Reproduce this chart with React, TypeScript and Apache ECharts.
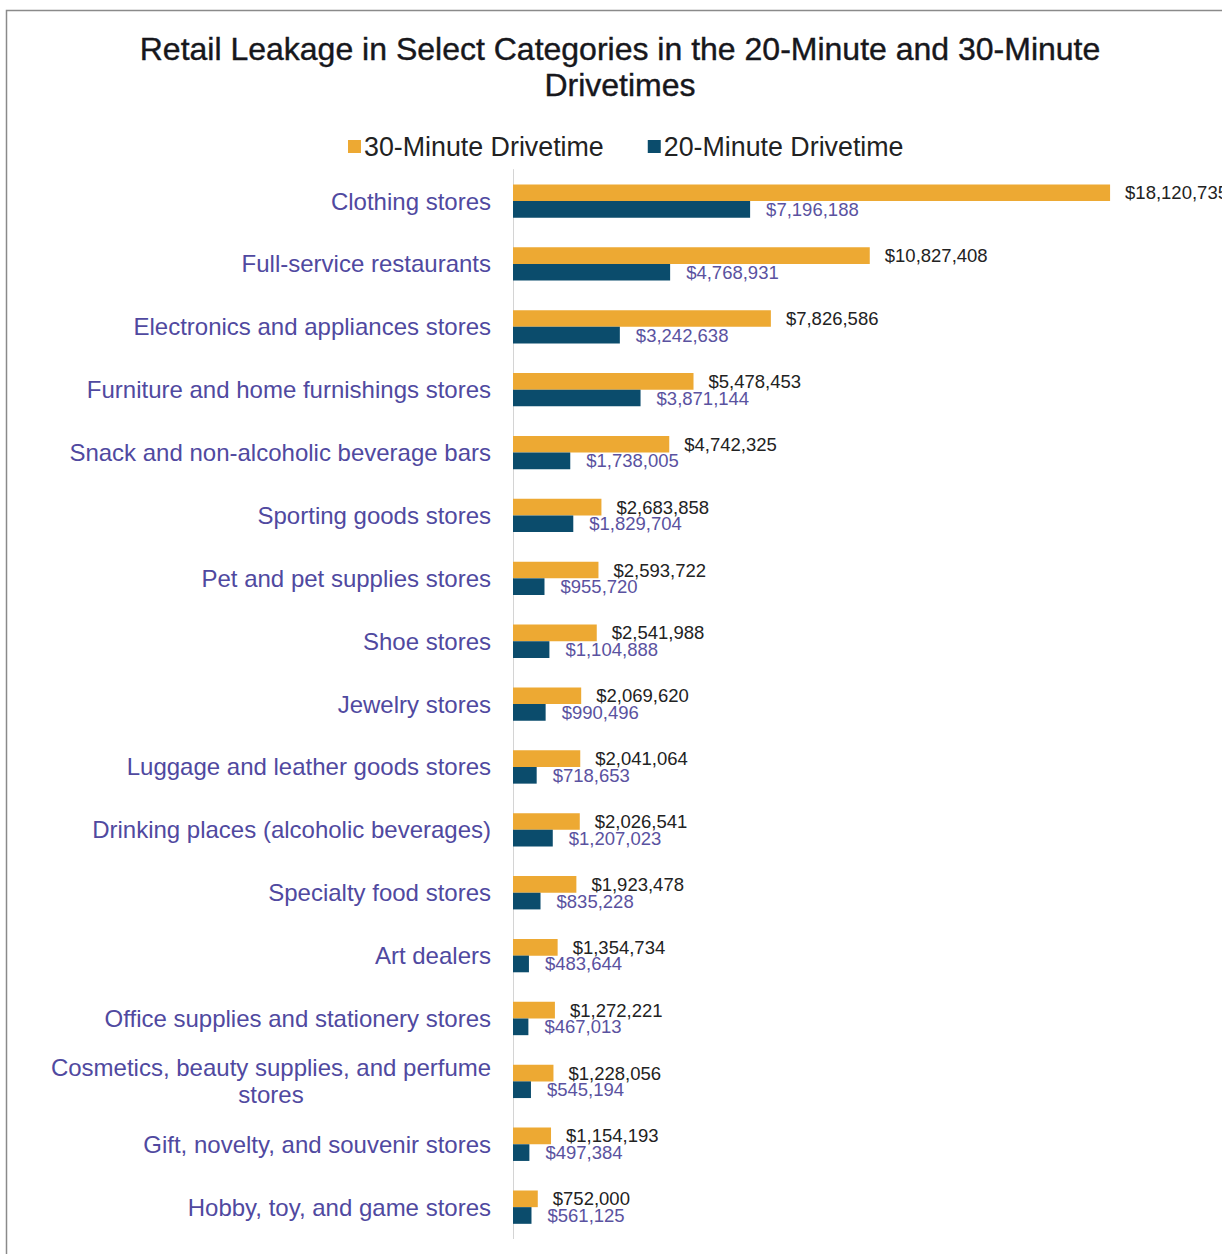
import React, { useEffect, useRef } from "react";
import * as echarts from "echarts";

const categories = [
  "Clothing stores",
  "Full-service restaurants",
  "Electronics and appliances stores",
  "Furniture and home furnishings stores",
  "Snack and non-alcoholic beverage bars",
  "Sporting goods stores",
  "Pet and pet supplies stores",
  "Shoe stores",
  "Jewelry stores",
  "Luggage and leather goods stores",
  "Drinking places (alcoholic beverages)",
  "Specialty food stores",
  "Art dealers",
  "Office supplies and stationery stores",
  "Cosmetics, beauty supplies, and perfume stores",
  "Gift, novelty, and souvenir stores",
  "Hobby, toy, and game stores",
];

const drive30 = [
  18120735, 10827408, 7826586, 5478453, 4742325, 2683858, 2593722, 2541988,
  2069620, 2041064, 2026541, 1923478, 1354734, 1272221, 1228056, 1154193, 752000,
];

const drive20 = [
  7196188, 4768931, 3242638, 3871144, 1738005, 1829704, 955720, 1104888,
  990496, 718653, 1207023, 835228, 483644, 467013, 545194, 497384, 561125,
];

const seriesNames = ["30-Minute Drivetime", "20-Minute Drivetime"];
const titleLines = [
  "Retail Leakage in Select Categories in the 20-Minute and 30-Minute",
  "Drivetimes",
];

const ORANGE = "#EDA933";
const NAVY = "#0B4C6C";
const PURPLE = "#5049A0";

const fmt = (v: number) => "$" + v.toLocaleString("en-US");

export default function App() {
  const ref = useRef<HTMLDivElement>(null);
  useEffect(() => {
    if (!ref.current) return;
    const chart = echarts.init(ref.current, undefined, { renderer: "svg" });
    chart.setOption({
      animation: false,
      backgroundColor: "#ffffff",
      textStyle: { fontFamily: "Liberation Sans, Arial, sans-serif" },
      graphic: [
        {
          type: "rect",
          shape: { x: 6.5, y: 10.5, width: 1400, height: 1400 },
          style: { fill: "none", stroke: "#8a8a8a", lineWidth: 1.5 },
          silent: true,
        },
        {
          type: "text",
          x: 620,
          y: 31,
          style: {
            text: titleLines.join("\n"),
            align: "center",
            verticalAlign: "top",
            fontSize: 32,
            lineHeight: 36,
            fill: "#17171c",
            stroke: "#17171c",
            lineWidth: 0.4,
            fontFamily: "Liberation Sans, Arial, sans-serif",
          },
        },
      ],
      legend: {
        left: 343,
        top: 128,
        itemWidth: 13,
        itemHeight: 13,
        itemGap: 44,
        icon: "rect",
        textStyle: { fontSize: 26.8, color: "#222222", padding: [0, 0, 0, -2] },
        data: seriesNames,
      },
      grid: { left: 513, right: 50, top: 169.6, bottom: 15.4, containLabel: false },
      xAxis: {
        type: "value",
        min: 0,
        max: 20000000,
        axisLabel: { show: false },
        axisLine: { show: false },
        axisTick: { show: false },
        splitLine: { show: false },
      },
      yAxis: {
        type: "category",
        inverse: true,
        data: categories,
        axisLine: { show: true, lineStyle: { color: "#d4d4d4", width: 1 } },
        axisTick: { show: false },
        axisLabel: {
          margin: 22,
          fontSize: 24,
          color: PURPLE,
          formatter: (v: string) => {
            if (v.length > 40) {
              const i = v.lastIndexOf(" ");
              return "{c|" + v.slice(0, i) + "}\n{c|" + v.slice(i + 1) + "}";
            }
            return v;
          },
          rich: {
            c: {
              width: 440,
              align: "center",
              fontSize: 24,
              lineHeight: 27,
              color: PURPLE,
            },
          },
        },
      },
      series: [
        {
          name: seriesNames[0],
          type: "bar",
          data: drive30,
          barGap: "0%",
          barCategoryGap: "47%",
          itemStyle: { color: ORANGE },
          label: {
            show: true,
            position: "right",
            distance: 15,
            fontSize: 18.5,
            color: "#222222",
            formatter: (p: any) => fmt(p.value),
          },
        },
        {
          name: seriesNames[1],
          type: "bar",
          data: drive20,
          barGap: "0%",
          barCategoryGap: "47%",
          itemStyle: { color: NAVY },
          label: {
            show: true,
            position: "right",
            distance: 16,
            fontSize: 18.5,
            color: "#5a52a0",
            formatter: (p: any) => fmt(p.value),
          },
        },
      ],
    });
    return () => chart.dispose();
  }, []);
  return (
    <div
      ref={ref}
      style={{ position: "absolute", left: 0, top: 0, width: 1222, height: 1254 }}
    />
  );
}
